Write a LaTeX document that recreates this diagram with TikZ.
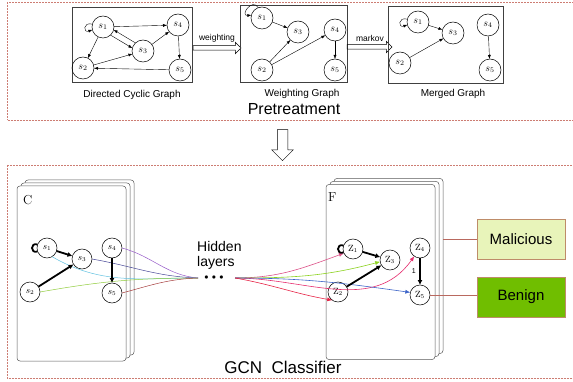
\documentclass[tikz,border=0pt]{standalone}
\usepackage{fontspec}
\setsansfont{Liberation Sans}
\usetikzlibrary{arrows.meta,shapes.arrows}

\definecolor{framered}{RGB}{205,125,115}
\definecolor{cardgray}{RGB}{90,90,90}
\definecolor{malicious}{RGB}{232,244,186}
\definecolor{benign}{RGB}{112,190,0}
\definecolor{classedge}{RGB}{190,140,105}
\definecolor{classline}{RGB}{185,105,95}
\definecolor{cpurple}{RGB}{150,90,200}
\definecolor{cnavy}{RGB}{70,70,150}
\definecolor{ccyan}{RGB}{100,195,225}
\definecolor{cgreen}{RGB}{145,205,60}
\definecolor{cbrown}{RGB}{165,60,60}
\definecolor{cpink}{RGB}{220,80,135}
\definecolor{clime}{RGB}{140,210,30}
\definecolor{crose}{RGB}{230,45,110}
\definecolor{cblue}{RGB}{60,100,200}
\definecolor{cred}{RGB}{230,35,70}

\tikzset{
  st/.style={circle,draw,line width=0.5pt,minimum size=22pt,inner sep=0pt,outer sep=0pt,font=\fontsize{10}{10}\selectfont},
  sb/.style={circle,draw,line width=0.5pt,minimum size=20pt,inner sep=0pt,outer sep=0pt,fill=white,font=\fontsize{9}{9}\selectfont},
  gbox/.style={draw=black!75,line width=0.6pt,inner sep=0pt,outer sep=0pt},
  card/.style={draw=cardgray,fill=white,rounded corners=3pt,line width=0.5pt,minimum width=109pt,minimum height=175pt,inner sep=0pt,outer sep=0pt},
  ar/.style={-{Latex[length=4pt,width=3pt]},line width=0.4pt},
  tharr/.style={line width=1.8pt,-{Latex[length=5pt,width=5pt]}},
  fatarrow/.style={single arrow,draw,line width=0.5pt,inner sep=2pt,single arrow head extend=3.5pt,outer sep=0pt},
  frame/.style={draw=framered,line width=0.5pt,densely dotted},
  lbl/.style={font=\sffamily\fontsize{10}{11}\selectfont},
  cls/.style={draw=classedge,line width=0.8pt,minimum width=88pt,minimum height=40pt,font=\sffamily\fontsize{15}{15}\selectfont},
  hid/.style={line width=0.5pt},
  fw/.style={line width=0.6pt,-{Latex[length=5pt,width=4pt]}},
}

\begin{document}
\begin{tikzpicture}[x=1pt,y=1pt]
\useasboundingbox (0,0) rectangle (573,-382);

% panels
\draw[frame] (7,-2) rectangle (578,-120);
\draw[frame] (7,-165) rectangle (578,-378);

% directed cyclic graph
\node[gbox,minimum width=120pt,minimum height=75pt] (ga) at (132,-44.5) {};
\node[st] (a1) at (103,-27) {$s_1$};
\node[st] (a4) at (178,-25) {$s_4$};
\node[st] (a3) at (143,-51) {$s_3$};
\node[st] (a2) at (83,-68) {$s_2$};
\node[st] (a5) at (180,-70) {$s_5$};
\draw[ar] (a1) -- (a4);
\draw[ar] (a3.133) -- (a1.-15);
\draw[ar] (a1.-47) -- (a3.165);
\draw[ar] (a3) -- (a4);
\draw[ar] (a1) -- (a2);
\draw[ar] (a2) -- (a3);
\draw[ar] (a4) -- (a5);
\draw[ar] (a5) -- (a2);
\draw[ar] (a1.165) .. controls +(165:10) and +(200:10) .. (a1.195);
\node[lbl] (t1) at (132,-95) {Directed Cyclic Graph};

\node[fatarrow,minimum height=48pt,anchor=west] (wa) at (193,-48) {};
\node[font=\sffamily\fontsize{8.5}{9}\selectfont] (wt) at (217,-38) {weighting};

% weighting graph
\node[gbox,minimum width=107pt,minimum height=77pt] (gb) at (293.5,-43.5) {};
\node[st] (b1) at (262,-18) {$s_1$};
\node[st] (b3) at (298,-32) {$s_3$};
\node[st] (b4) at (335,-30) {$s_4$};
\node[st] (b2) at (262,-70) {$s_2$};
\node[st] (b5) at (335,-70) {$s_5$};
\draw[ar] (b1) -- (b3);
\draw[ar] (b2) -- (b3);
\draw[ar] (b2) -- (b4);
\draw[ar] (b4) -- (b5);
\draw[ar] (b1.110) .. controls +(120:12) and +(185:12) .. (b1.165);
\node[lbl] (t2) at (302,-94) {Weighting Graph};

\node[fatarrow,minimum height=45pt,anchor=west] (ma) at (347,-47) {};
\node[font=\sffamily\fontsize{8.5}{9}\selectfont] (mk) at (370,-38) {markov};

% merged graph
\node[gbox,minimum width=115pt,minimum height=77pt] (gc) at (445.5,-44.5) {};
\node[st] (c1) at (418,-22) {$s_1$};
\node[st] (c3) at (453,-33) {$s_3$};
\node[st] (c2) at (400,-63) {$s_2$};
\node[st] (c4) at (488,-25) {$s_4$};
\node[st] (c5) at (490,-70) {$s_5$};
\draw[ar] (c1) -- (c3);
\draw[ar] (c2) -- (c3);
\draw[ar] (c4) -- (c5);
\draw[ar] (c1.165) .. controls +(165:10) and +(200:10) .. (c1.195);
\node[lbl] (t3) at (453,-94) {Merged Graph};

\node[font=\sffamily\fontsize{16}{16}\selectfont] (pre) at (294,-109) {Pretreatment};

\node[fatarrow,inner sep=5pt,single arrow head extend=5.5pt,minimum height=31pt,rotate=-90] (down) at (282.5,-142.5) {};

% GCN classifier
\node[card] (C3) at (79.5,-267.5) {};
\node[card] (C2) at (75.5,-270.5) {};
\node[card] (Cc) at (71.5,-273.5) {};
\node[anchor=north west,font=\fontsize{13}{13}\selectfont,inner sep=0pt] (Cl) at (23,-195) {C};

\node[sb] (d1) at (47,-248) {$s_1$};
\node[sb] (d3) at (82,-259) {$s_3$};
\node[sb] (d4) at (112,-248) {$s_4$};
\node[sb] (d2) at (30,-292) {$s_2$};
\node[sb] (d5) at (112,-293) {$s_5$};

\coordinate (hl) at (198,-278);
\coordinate (hr) at (235,-278);
\node[inner sep=0pt,font=\fontsize{8}{8}\selectfont] (dots) at (214,-278) {$\bullet\,\bullet\,\bullet$};
\node[anchor=west,align=left,inner sep=0pt,font=\sffamily\fontsize{14}{15}\selectfont] (hid) at (197,-255.5) {Hidden\\layers};

\draw[hid,cpurple] (d4.east) to[out=-15,in=175] (hl);
\draw[hid,cnavy] (d3.east) to[out=-10,in=178] (hl);
\draw[hid,ccyan] (d1.-60) to[out=-30,in=180] (hl);
\draw[hid,cgreen] (d2.east) to[out=10,in=180] (hl);
\draw[hid,cbrown] (d5.east) to[out=15,in=182] (hl);

\draw[tharr] (d1) -- (d3);
\draw[tharr] (d2) -- (d3);
\draw[tharr] (d4) -- (d5);
\draw[line width=1.8pt] (d1.160) .. controls +(160:8) and +(200:8) .. (d1.200);

\node[card] (F3) at (388.5,-266) {};
\node[card] (F2) at (384.5,-269) {};
\node[card] (Ff) at (380.5,-272) {};
\node[anchor=north west,font=\fontsize{13}{13}\selectfont,inner sep=0pt] (Fl) at (328,-192) {F};

\node[sb] (z1) at (353,-249) {$\mathrm{Z}_1$};
\node[sb] (z3) at (390,-260) {$\mathrm{Z}_3$};
\node[sb] (z4) at (420,-248) {$\mathrm{Z}_4$};
\node[sb] (z2) at (338,-292) {$\mathrm{Z}_2$};
\node[sb] (z5) at (420,-295) {$\mathrm{Z}_5$};

\draw[fw,cpink] (hr) to[out=0,in=200] (z1.205);
\draw[fw,clime] (hr) to[out=0,in=195] (z3.190);
\draw[fw,crose] (hr) to[out=0,in=235] (z4.235);
\draw[fw,cblue] (hr) to[out=0,in=172] (z5.165);
\draw[fw,cred] (hr) to[out=-10,in=170] (z2.235);

\draw[tharr] (z1) -- (z3);
\draw[tharr] (z2) -- (z3);
\draw[tharr] (z4) -- node[left,font=\sffamily\fontsize{7}{7}\selectfont] {1} (z5);
\draw[line width=1.8pt] (z1.160) .. controls +(160:8) and +(200:8) .. (z1.200);

\node[cls,fill=malicious] (mal) at (521,-239) {Malicious};
\node[cls,fill=benign] (ben) at (521,-297) {Benign};
\draw[classline] (F3.east |- mal.west) -- (mal.west);
\draw[classline] (z5.east) -- (z5.east -| ben.west);

\node[font=\sffamily\fontsize{17}{17}\selectfont] (gcn) at (283,-367) {GCN\ \ Classifier};
\end{tikzpicture}
\end{document}
